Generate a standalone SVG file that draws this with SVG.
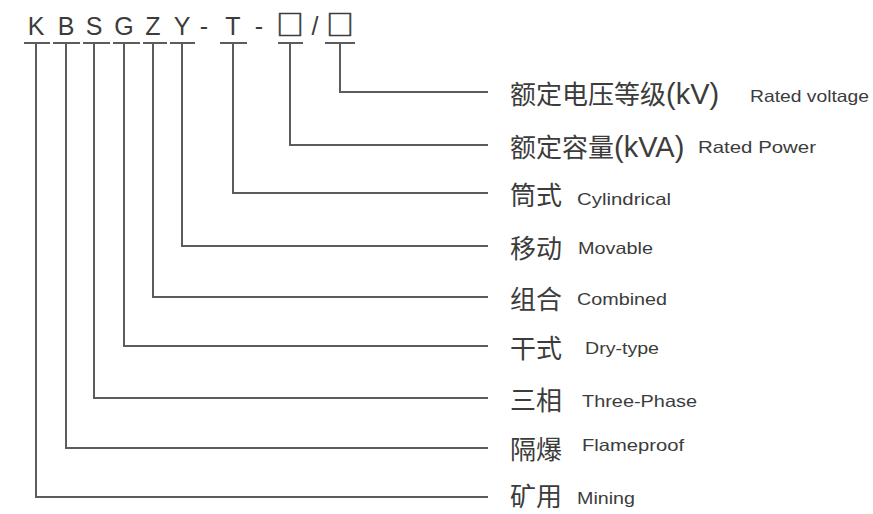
<svg xmlns="http://www.w3.org/2000/svg" width="873" height="514" viewBox="0 0 873 514">
<style>
.code{font-family:"Liberation Sans","Noto Sans CJK SC",sans-serif;font-size:25px;fill:#3c3c3c;text-anchor:middle}
.box{font-family:"Noto Sans CJK SC",sans-serif;font-size:27px;fill:#3c3c3c;stroke:#3c3c3c;stroke-width:0.7}
.cn{font-family:"Noto Sans CJK SC",sans-serif;font-size:26px;fill:#3c3c3c}
.lat{font-family:"Liberation Sans",sans-serif;font-size:29px}
.en{font-family:"Liberation Sans",sans-serif;font-size:16.5px;fill:#3c3c3c}
.ln{fill:none;stroke:#5c5c5c;stroke-width:2}
</style>
<rect width="873" height="514" fill="#ffffff"/>
<g id="code">
<text class="code" y="35"><tspan x="36 66 94 124 153 182 204 233 259">KBSGZY-T-</tspan><tspan class="box" x="290">□</tspan><tspan x="315">/</tspan><tspan class="box" x="340">□</tspan></text>
</g>
<g id="connectors" class="ln">
<path d="M24 43H50M53 43H80M83 43H110M113 43H140M143 43H167M170 43H195M220 43H247M278 43H303M325 43H355"/>
<path d="M340 43V92H488"/>
<path d="M290 43V145H488"/>
<path d="M233 43V193H488"/>
<path d="M182 43V246H488"/>
<path d="M153 43V297H488"/>
<path d="M124 43V346H488"/>
<path d="M94 43V398H488"/>
<path d="M66 43V448H488"/>
<path d="M36 43V497H488"/>
</g>
<g id="row-voltage">
<text class="cn" x="510" y="104">额定电压等级<tspan class="lat">(kV)</tspan></text>
<text class="en" x="750" y="102" textLength="119" lengthAdjust="spacingAndGlyphs">Rated voltage</text>
</g>
<g id="row-power">
<text class="cn" x="510" y="157">额定容量<tspan class="lat">(kVA)</tspan></text>
<text class="en" x="698" y="153" textLength="118" lengthAdjust="spacingAndGlyphs">Rated Power</text>
</g>
<g id="row-cylindrical">
<text class="cn" x="510" y="205">筒式</text>
<text class="en" x="577" y="205" textLength="94" lengthAdjust="spacingAndGlyphs">Cylindrical</text>
</g>
<g id="row-movable">
<text class="cn" x="510" y="258">移动</text>
<text class="en" x="578" y="254" textLength="75" lengthAdjust="spacingAndGlyphs">Movable</text>
</g>
<g id="row-combined">
<text class="cn" x="510" y="309">组合</text>
<text class="en" x="577" y="305" textLength="90" lengthAdjust="spacingAndGlyphs">Combined</text>
</g>
<g id="row-drytype">
<text class="cn" x="510" y="358">干式</text>
<text class="en" x="585" y="354" textLength="74" lengthAdjust="spacingAndGlyphs">Dry-type</text>
</g>
<g id="row-threephase">
<text class="cn" x="510" y="410">三相</text>
<text class="en" x="582" y="407" textLength="115" lengthAdjust="spacingAndGlyphs">Three-Phase</text>
</g>
<g id="row-flameproof">
<text class="cn" x="510" y="459">隔爆</text>
<text class="en" x="582" y="451" textLength="102" lengthAdjust="spacingAndGlyphs">Flameproof</text>
</g>
<g id="row-mining">
<text class="cn" x="510" y="506">矿用</text>
<text class="en" x="577" y="504" textLength="58" lengthAdjust="spacingAndGlyphs">Mining</text>
</g>
</svg>
